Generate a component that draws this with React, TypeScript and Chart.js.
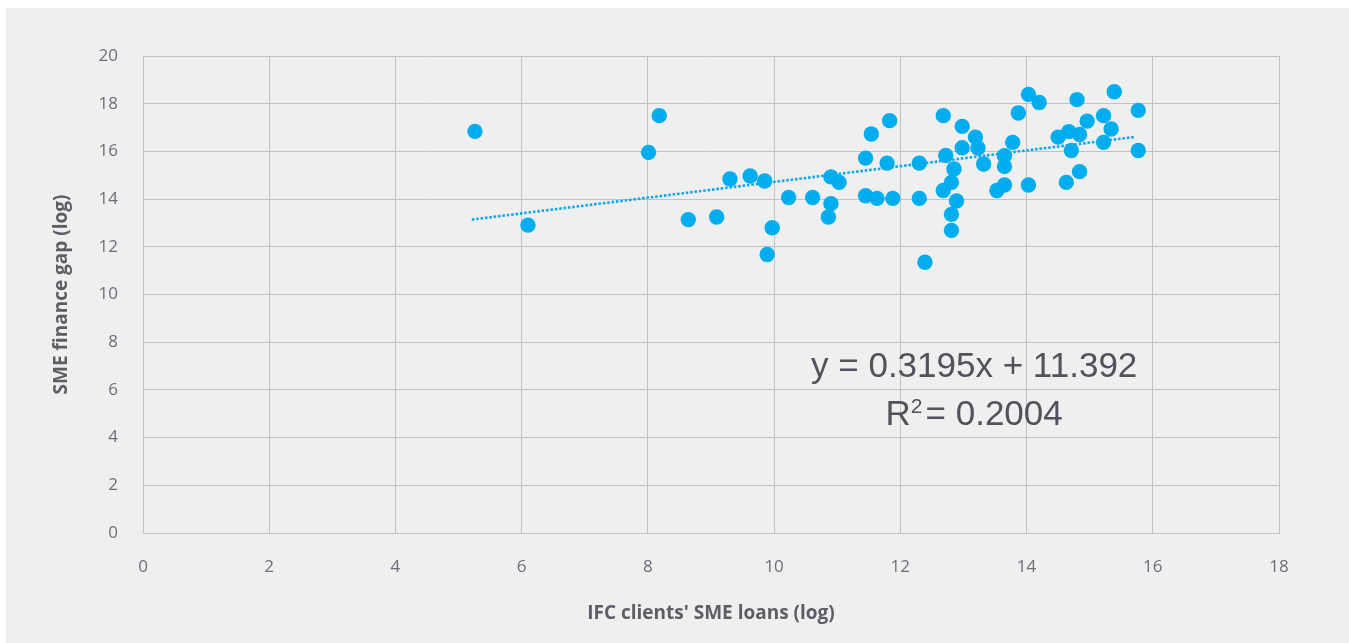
import React, { useEffect, useRef } from "react";
import { Chart, registerables } from "chart.js";

Chart.register(...registerables);

const xValues: number[] = [
  5.26, 6.10, 8.01, 8.18, 8.64, 9.09, 9.30, 9.62, 9.85, 9.89,
  9.97, 10.23, 10.61, 10.86, 10.90, 10.90, 11.03, 11.45, 11.45, 11.54,
  11.63, 11.79, 11.83, 11.88, 12.30, 12.30, 12.39, 12.68, 12.68, 12.72,
  12.81, 12.81, 12.81, 12.85, 12.89, 12.98, 12.98, 13.19, 13.23, 13.32,
  13.53, 13.65, 13.65, 13.65, 13.78, 13.87, 14.03, 14.03, 14.20, 14.50,
  14.63, 14.67, 14.71, 14.80, 14.84, 14.84, 14.96, 15.22, 15.22, 15.34,
  15.39, 15.77, 15.77,
];
const yValues: number[] = [
  16.84, 12.91, 15.96, 17.50, 13.14, 13.25, 14.84, 14.97, 14.76, 11.68,
  12.80, 14.07, 14.07, 13.25, 13.81, 14.93, 14.70, 15.72, 14.14, 16.73,
  14.03, 15.51, 17.29, 14.03, 14.03, 15.51, 11.35, 17.50, 14.36, 15.83,
  14.70, 13.36, 12.69, 15.26, 13.92, 17.05, 16.15, 16.60, 16.14, 15.47,
  14.36, 15.82, 15.37, 14.59, 16.38, 17.61, 18.39, 14.59, 18.05, 16.60,
  14.70, 16.83, 16.04, 18.17, 16.71, 15.15, 17.27, 17.50, 16.38, 16.94,
  18.50, 17.72, 16.04,
];
const trendX: number[] = [5.21, 15.70];
const trendY: number[] = [13.14, 16.6];
const equationLine = "y = 0.3195x + 11.392";
const r2Parts: string[] = ["R", "2", "= 0.2004"];
const xTitle = "IFC clients' SME loans (log)";
const yTitle = "SME finance gap (log)";

const GRID = "#c2c2c2";
const TICK = "#6d6d7a";
const TITLE = "#5d5d66";
const DOT = "#00aeef";

const equationPlugin = {
  id: "equationText",
  afterDraw(chart: any) {
    const ctx = chart.ctx;
    const xs = chart.scales.x;
    const ys = chart.scales.y;
    ctx.save();
    const big = '35px "Liberation Sans", Arial, sans-serif';
    const small = '21px "Liberation Sans", Arial, sans-serif';
    ctx.fillStyle = "#52525a";
    ctx.textBaseline = "alphabetic";
    const cx = xs.getPixelForValue(13.17);
    ctx.font = big;
    ctx.textAlign = "center";
    ctx.fillText(equationLine, cx, ys.getPixelForValue(6.55));
    // R² line built from pieces
    ctx.textAlign = "left";
    ctx.font = big;
    const wR = ctx.measureText(r2Parts[0]).width;
    const wRest = ctx.measureText(r2Parts[2]).width;
    ctx.font = small;
    const w2 = ctx.measureText(r2Parts[1]).width;
    const gap = 3;
    const total = wR + w2 + gap + wRest;
    let x0 = cx - total / 2;
    const base = ys.getPixelForValue(4.54);
    ctx.font = big;
    ctx.fillText(r2Parts[0], x0, base);
    x0 += wR;
    ctx.font = small;
    ctx.fillText(r2Parts[1], x0, base - 12);
    x0 += w2 + gap;
    ctx.font = big;
    ctx.fillText(r2Parts[2], x0, base);
    ctx.restore();
  },
};

export default function App() {
  const ref = useRef<HTMLCanvasElement | null>(null);
  useEffect(() => {
    if (!ref.current) return;
    const chart = new Chart(ref.current, {
      type: "scatter",
      data: {
        datasets: [
          {
            type: "line",
            data: trendX.map((x, i) => ({ x, y: trendY[i] })),
            borderColor: "#12a8e8",
            borderWidth: 2.6,
            borderDash: [2.6, 1.8],
            pointRadius: 0,
            fill: false,
            showLine: true,
          } as any,
          {
            data: xValues.map((x, i) => ({ x, y: yValues[i] })),
            backgroundColor: DOT,
            borderWidth: 0,
            pointRadius: 7.7,
            pointHoverRadius: 7.7,
          },
        ],
      },
      options: {
        responsive: false,
        animation: false,
        devicePixelRatio: 1,
        layout: { padding: { top: 48, right: 70, left: 0, bottom: 0 } },
        plugins: { legend: { display: false }, tooltip: { enabled: false } },
        scales: {
          x: {
            type: "linear",
            min: 0,
            max: 18,
            ticks: {
              stepSize: 2,
              padding: 24,
              color: TICK,
              font: { family: "'Open Sans'", size: 17 },
            },
            grid: { color: GRID, lineWidth: 1, drawTicks: false },
            border: { color: GRID },
            title: {
              display: true,
              text: xTitle,
              color: TITLE,
              font: { family: "'Open Sans'", size: 19, weight: "bold" },
              padding: { top: 0, bottom: 18 },
            },
            afterFit: (s: any) => {
              s.height = 110;
            },
          },
          y: {
            type: "linear",
            min: 0,
            max: 20,
            ticks: {
              stepSize: 2,
              padding: 25,
              color: TICK,
              font: { family: "'Open Sans'", size: 17 },
            },
            grid: { color: GRID, lineWidth: 1, drawTicks: false },
            border: { color: GRID },
            title: {
              display: true,
              text: yTitle,
              color: TITLE,
              font: { family: "'Open Sans'", size: 19, weight: "bold" },
              padding: { top: 44, bottom: 0 },
            },
            afterFit: (s: any) => {
              s.width = 137;
            },
          },
        },
      },
      plugins: [equationPlugin],
    });
    return () => chart.destroy();
  }, []);
  return (
    <div
      style={{
        position: "absolute",
        left: 6,
        top: 8,
        width: 1343,
        height: 635,
        background: "#efefef",
      }}
    >
      <canvas ref={ref} width={1343} height={635} style={{ display: "block" }} />
    </div>
  );
}
